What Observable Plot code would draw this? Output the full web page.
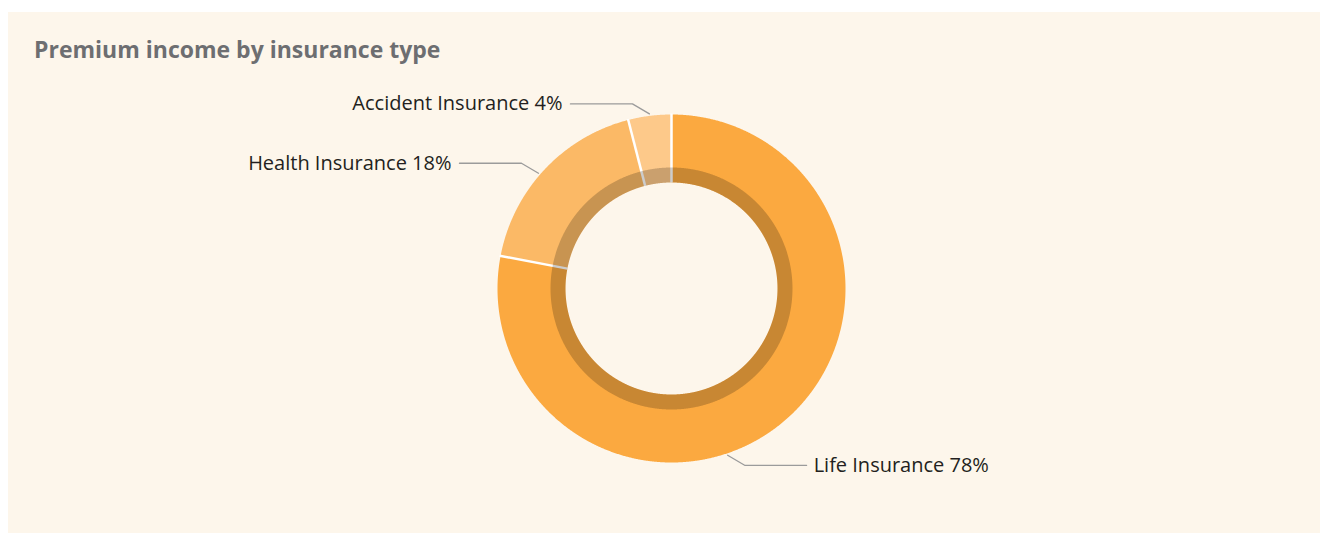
<!DOCTYPE html>
<html>
<head>
<meta charset="utf-8">
<script src="https://cdn.jsdelivr.net/npm/d3@7"></script>
<script src="https://cdn.jsdelivr.net/npm/@observablehq/plot@0.6"></script>
<style>
  html, body { margin: 0; padding: 0; background: #ffffff; }
  #panel { position: absolute; left: 8px; top: 12px; width: 1312px; height: 521px; background: #fdf6eb; overflow: hidden; }
  #title { position: absolute; left: 26px; top: 25px; margin: 0; font-family: "Open Sans", "Lato", sans-serif; font-weight: 700; font-size: 23px; line-height: 24px; color: #6d6e71; white-space: nowrap; }
  #chart { position: absolute; left: 0; top: 70px; }
</style>
</head>
<body>
<div id="panel">
  <div id="title">Premium income by insurance type</div>
  <div id="chart"></div>
</div>
<script>
// ---- data ----
const categories = ["Life Insurance", "Health Insurance", "Accident Insurance"];
const shares = [78, 18, 4];

// ---- style / layout ----
const sliceColors = ["#fba940", "#fbb966", "#fdc98a"];
const rOuter = 174, rInner = 106, rBand = 121, rAnchor = 176;
const leaderAngleOffsetDeg = [21, -2.3, 0]; // label layout nudges
const W = 1312, H = 451;
const cx = 663, cy = 206; // centre of donut in pixels inside the svg

const pie = d3.pie().sort(null).value(d => d)(shares);
const deg = Math.PI / 180;
const pt = (r, a) => ({x: r * Math.sin(a), y: r * Math.cos(a)});

function sectorPoints(a0, a1, r0, r1, name) {
  const n = Math.max(2, Math.ceil((a1 - a0) / (0.25 * deg)));
  const pts = [];
  for (let i = 0; i <= n; i++) pts.push({...pt(r1, a0 + (a1 - a0) * i / n), name});
  for (let i = n; i >= 0; i--) pts.push({...pt(r0, a0 + (a1 - a0) * i / n), name});
  pts.push({...pt(r1, a0), name});
  return pts;
}

const sliceMarks = pie.map((p, i) =>
  Plot.line(sectorPoints(p.startAngle, p.endAngle, rInner, rOuter, categories[i]),
    {x: "x", y: "y", fill: sliceColors[i], stroke: "none", curve: "linear"}));

const separators = pie.map((p, i) => ({
  x1: pt(rInner, p.startAngle).x, y1: pt(rInner, p.startAngle).y,
  x2: pt(rOuter + 1, p.startAngle).x, y2: pt(rOuter + 1, p.startAngle).y
}));

const band = sectorPoints(0, 2 * Math.PI, rInner, rBand, "band");

// leaders
const leaders = [];
const labels = [];
pie.forEach((p, i) => {
  const a = (p.startAngle + p.endAngle) / 2 + leaderAngleOffsetDeg[i] * deg;
  const A = pt(rAnchor, a);
  const side = A.x >= 0 ? 1 : -1;
  const vs = A.y >= 0 ? 1 : -1;
  const E = {x: A.x + side * 17, y: A.y + vs * 10};
  const F = {x: E.x + side * 62, y: E.y};
  const name = categories[i];
  leaders.push({...A, name}, {...E, name}, {...F, name});
  labels.push({x: F.x, y: F.y, side, text: `${name} ${shares[i]}%`});
});

const plot = Plot.plot({
  width: W, height: H,
  marginTop: 0, marginBottom: 0, marginLeft: 0, marginRight: 0,
  x: {domain: [-cx, W - cx], axis: null},
  y: {domain: [-(H - cy), cy], axis: null},
  style: {background: "transparent", fontFamily: "'Open Sans', Lato, sans-serif", overflow: "visible"},
  marks: [
    ...sliceMarks,
    Plot.link(separators, {x1: "x1", y1: "y1", x2: "x2", y2: "y2", stroke: "#ffffff", strokeWidth: 2.5}),
    Plot.line(band, {x: "x", y: "y", fill: "#000000", fillOpacity: 0.2, stroke: "none", curve: "linear"}),
    Plot.line(leaders, {x: "x", y: "y", z: "name", stroke: "#9b9b9b", strokeWidth: 1.3, curve: "linear"}),
    Plot.text(labels.filter(d => d.side > 0), {x: "x", y: "y", text: "text", textAnchor: "start", dx: 7, fontSize: 20, fill: "#231f20"}),
    Plot.text(labels.filter(d => d.side < 0), {x: "x", y: "y", text: "text", textAnchor: "end", dx: -8, fontSize: 20, fill: "#231f20"})
  ]
});
document.getElementById("chart").appendChild(plot);
</script>
</body>
</html>
